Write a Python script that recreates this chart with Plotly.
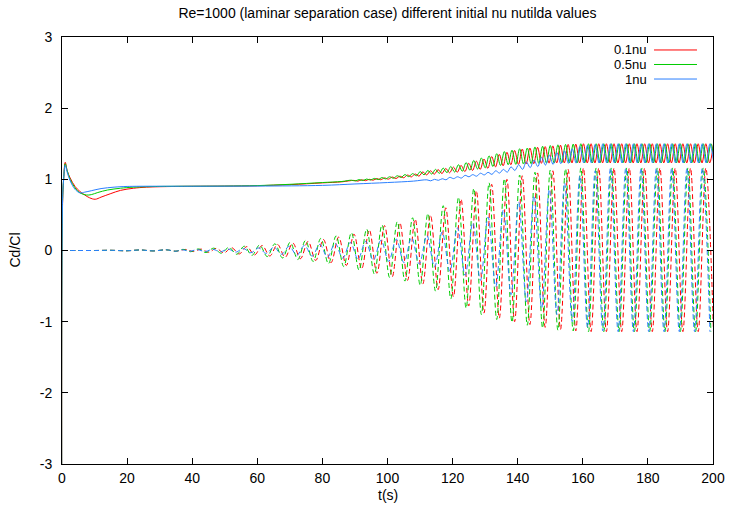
import plotly.graph_objects as go

# ---------------- data ----------------
# Cd (solid) and Cl (dashed) for three initial nu_tilda values; points are
# the curve's turning points / read-off samples (t [s], value)

red_cd = [(0, -6), (0.15, 0.6), (0.5, 1.0), (1.0, 1.24), (1.6, 1.12), (2.5, 1.02), (4, 0.9), (5.5, 0.83),
          (7, 0.78), (8.5, 0.74), (10.2, 0.72), (12, 0.75), (15, 0.8), (18, 0.845), (22, 0.875), (26, 0.89),
          (35, 0.9), (50, 0.905), (60, 0.91), (70, 0.925), (80, 0.95), (86, 0.965),
          (89.7, 0.985), (90.88, 0.975), (92.05, 0.993), (93.23, 0.981), (94.4, 1.0), (95.58, 0.988),
          (96.75, 1.01), (97.93, 0.994), (99.1, 1.02), (100.28, 1.003), (101.45, 1.032), (102.63, 1.012),
          (103.8, 1.044), (104.98, 1.022), (106.15, 1.06), (107.33, 1.034), (108.5, 1.075), (109.68, 1.045),
          (110.85, 1.104), (112.03, 1.062), (113.2, 1.12), (114.38, 1.072), (115.55, 1.136), (116.73, 1.082),
          (117.9, 1.152), (119.08, 1.092), (120.25, 1.172), (121.43, 1.1), (122.6, 1.195), (123.78, 1.11),
          (124.95, 1.225), (126.13, 1.125), (127.3, 1.255), (128.48, 1.14), (129.65, 1.285), (130.83, 1.155),
          (132.0, 1.32), (133.18, 1.175), (134.35, 1.35), (135.53, 1.19), (136.7, 1.38), (137.88, 1.205),
          (139.05, 1.405), (140.23, 1.21), (141.4, 1.425), (142.58, 1.215), (143.75, 1.44), (144.93, 1.22),
          (146.1, 1.45), (147.28, 1.225), (148.45, 1.46), (149.63, 1.228), (150.8, 1.47), (151.98, 1.23),
          (153.15, 1.48), (154.33, 1.23), (155.5, 1.49), (156.68, 1.23), (157.85, 1.495), (159.03, 1.23),
          (160.2, 1.5), (161.38, 1.23), (162.55, 1.5), (163.73, 1.23), (164.9, 1.5), (166.08, 1.23),
          (167.25, 1.5), (168.43, 1.23), (169.6, 1.5), (170.78, 1.23), (171.95, 1.5), (173.13, 1.23),
          (174.3, 1.5), (175.48, 1.23), (176.65, 1.5), (177.83, 1.23), (179.0, 1.5), (180.18, 1.23),
          (181.35, 1.5), (182.53, 1.23), (183.7, 1.5), (184.88, 1.23), (186.05, 1.5), (187.23, 1.23),
          (188.4, 1.5), (189.58, 1.23), (190.75, 1.5), (191.93, 1.23), (193.1, 1.5), (194.28, 1.23),
          (195.45, 1.5), (196.63, 1.23), (197.8, 1.5), (198.98, 1.23), (200.15, 1.5)]

red_cl = [(0, 0), (5, 0), (10, 0), (15, 0.003), (20, -0.004), (24, 0.008), (28, -0.006), (32, 0.01), (35, -0.01),
          (38.0, 0.015), (40.35, -0.015), (42.7, 0.02), (45.05, -0.025), (47.4, 0.03), (49.75, -0.035),
          (52.1, 0.04), (54.45, -0.048), (56.8, 0.055), (59.15, -0.063), (61.5, 0.07), (63.85, -0.077),
          (66.2, 0.085), (68.55, -0.095), (70.9, 0.105), (73.25, -0.115), (75.6, 0.128), (77.95, -0.14),
          (80.3, 0.155), (82.65, -0.17), (85.0, 0.19), (87.35, -0.21), (89.7, 0.23), (92.05, -0.26),
          (94.4, 0.29), (96.75, -0.32), (99.1, 0.35), (101.45, -0.37), (103.8, 0.39), (106.15, -0.42),
          (108.5, 0.44), (110.85, -0.47), (113.2, 0.5), (115.55, -0.55), (117.9, 0.6), (120.25, -0.65),
          (122.6, 0.72), (124.95, -0.78), (127.3, 0.84), (129.65, -0.88), (132.0, 0.93), (134.35, -0.95),
          (136.7, 1.0), (139.05, -1.0), (141.4, 1.05), (143.75, -1.04), (146.1, 1.09), (148.45, -1.08),
          (150.8, 1.12), (153.15, -1.11), (155.5, 1.14), (157.85, -1.13), (160.2, 1.16), (162.55, -1.14),
          (164.9, 1.16), (167.25, -1.14), (169.6, 1.16), (171.95, -1.14), (174.3, 1.16), (176.65, -1.14),
          (179.0, 1.16), (181.35, -1.14), (183.7, 1.16), (186.05, -1.14), (188.4, 1.16), (190.75, -1.14),
          (193.1, 1.16), (195.45, -1.14), (197.8, 1.16), (200.15, -1.14)]

green_cd = [(0, -6), (0.15, 0.65), (0.5, 1.0), (1.0, 1.22), (1.6, 1.12), (2.5, 1.0), (4, 0.88), (5.5, 0.81),
            (7.5, 0.78), (9, 0.785), (11, 0.815), (14, 0.85), (18, 0.875), (22, 0.89), (30, 0.9), (50, 0.905),
            (60, 0.912), (70, 0.93), (80, 0.955), (86, 0.97),
            (88.9, 0.988), (90.08, 0.978), (91.25, 0.996), (92.43, 0.984), (93.6, 1.004), (94.78, 0.99),
            (95.95, 1.013), (97.13, 0.997), (98.3, 1.024), (99.48, 1.006), (100.65, 1.036), (101.83, 1.015),
            (103.0, 1.05), (104.18, 1.026), (105.35, 1.066), (106.53, 1.038), (107.7, 1.08), (108.88, 1.05),
            (110.05, 1.108), (111.23, 1.064), (112.4, 1.124), (113.58, 1.074), (114.75, 1.14), (115.93, 1.084),
            (117.1, 1.158), (118.28, 1.094), (119.45, 1.18), (120.63, 1.102), (121.8, 1.205), (122.98, 1.114),
            (124.15, 1.235), (125.33, 1.128), (126.5, 1.265), (127.68, 1.145), (128.85, 1.3), (130.03, 1.16),
            (131.2, 1.33), (132.38, 1.18), (133.55, 1.36), (134.73, 1.195), (135.9, 1.39), (137.08, 1.205),
            (138.25, 1.41), (139.43, 1.21), (140.6, 1.43), (141.78, 1.215), (142.95, 1.44), (144.13, 1.22),
            (145.3, 1.455), (146.48, 1.225), (147.65, 1.465), (148.83, 1.228), (150.0, 1.475), (151.18, 1.23),
            (152.35, 1.485), (153.53, 1.23), (154.7, 1.49), (155.88, 1.23), (157.05, 1.495), (158.23, 1.23),
            (159.4, 1.5), (160.58, 1.23), (161.75, 1.5), (162.93, 1.23), (164.1, 1.5), (165.28, 1.23),
            (166.45, 1.5), (167.63, 1.23), (168.8, 1.5), (169.98, 1.23), (171.15, 1.5), (172.33, 1.23),
            (173.5, 1.5), (174.68, 1.23), (175.85, 1.5), (177.03, 1.23), (178.2, 1.5), (179.38, 1.23),
            (180.55, 1.5), (181.73, 1.23), (182.9, 1.5), (184.08, 1.23), (185.25, 1.5), (186.43, 1.23),
            (187.6, 1.5), (188.78, 1.23), (189.95, 1.5), (191.13, 1.23), (192.3, 1.5), (193.48, 1.23),
            (194.65, 1.5), (195.83, 1.23), (197.0, 1.5), (198.18, 1.23), (199.35, 1.5), (200.53, 1.23)]

green_cl = [(0, 0), (5, 0), (10, 0), (15, 0.003), (20, -0.004), (24, 0.008), (28, -0.006), (32, 0.01), (35, -0.01),
            (37.2, 0.016), (39.55, -0.017), (41.9, 0.022), (44.25, -0.028), (46.6, 0.033), (48.95, -0.039),
            (51.3, 0.045), (53.65, -0.053), (56.0, 0.06), (58.35, -0.069), (60.7, 0.077), (63.05, -0.085),
            (65.4, 0.094), (67.75, -0.105), (70.1, 0.115), (72.45, -0.127), (74.8, 0.14), (77.15, -0.154),
            (79.5, 0.17), (81.85, -0.185), (84.2, 0.205), (86.55, -0.225), (88.9, 0.25), (91.25, -0.275),
            (93.6, 0.3), (95.95, -0.33), (98.3, 0.36), (100.65, -0.38), (103.0, 0.405), (105.35, -0.43),
            (107.7, 0.46), (110.05, -0.49), (112.4, 0.52), (114.75, -0.57), (117.1, 0.63), (119.45, -0.68),
            (121.8, 0.75), (124.15, -0.81), (126.5, 0.87), (128.85, -0.9), (131.2, 0.95), (133.55, -0.97),
            (135.9, 1.01), (138.25, -1.01), (140.6, 1.06), (142.95, -1.05), (145.3, 1.1), (147.65, -1.09),
            (150.0, 1.13), (152.35, -1.12), (154.7, 1.15), (157.05, -1.13), (159.4, 1.16), (161.75, -1.14),
            (164.1, 1.16), (166.45, -1.14), (168.8, 1.16), (171.15, -1.14), (173.5, 1.16), (175.85, -1.14),
            (178.2, 1.16), (180.55, -1.14), (182.9, 1.16), (185.25, -1.14), (187.6, 1.16), (189.95, -1.14),
            (192.3, 1.16), (194.65, -1.14), (197.0, 1.16), (199.35, -1.14)]

blue_cd = [(0, -6), (0.15, 0.65), (0.5, 1.0), (1.0, 1.2), (1.6, 1.1), (2.5, 0.98), (4, 0.86), (5.5, 0.81),
           (7, 0.82), (9, 0.84), (12, 0.87), (16, 0.89), (20, 0.9), (40, 0.903), (60, 0.905), (80, 0.915),
           (90, 0.935), (100, 0.955), (108, 0.975),
           (112.1, 0.993), (113.28, 0.979), (114.45, 1.0), (115.63, 0.986), (116.8, 1.008), (117.98, 0.994),
           (119.15, 1.028), (120.33, 1.01), (121.5, 1.036), (122.68, 1.018), (123.85, 1.056), (125.03, 1.036),
           (126.2, 1.066), (127.38, 1.044), (128.55, 1.086), (129.73, 1.062), (130.9, 1.098), (132.08, 1.07),
           (133.25, 1.12), (134.43, 1.088), (135.6, 1.14), (136.78, 1.1), (137.95, 1.175), (139.13, 1.125),
           (140.3, 1.205), (141.48, 1.14), (142.65, 1.245), (143.83, 1.165), (145.0, 1.27), (146.18, 1.18),
           (147.35, 1.31), (148.53, 1.2), (149.7, 1.34), (150.88, 1.21), (152.05, 1.375), (153.23, 1.22),
           (154.4, 1.4), (155.58, 1.225), (156.75, 1.43), (157.93, 1.228), (159.1, 1.46), (160.28, 1.23),
           (161.45, 1.48), (162.63, 1.23), (163.8, 1.49), (164.98, 1.23), (166.15, 1.5), (167.33, 1.23),
           (168.5, 1.5), (169.68, 1.23), (170.85, 1.5), (172.03, 1.23), (173.2, 1.5), (174.38, 1.23),
           (175.55, 1.5), (176.73, 1.23), (177.9, 1.5), (179.08, 1.23), (180.25, 1.5), (181.43, 1.23),
           (182.6, 1.5), (183.78, 1.23), (184.95, 1.5), (186.13, 1.23), (187.3, 1.5), (188.48, 1.23),
           (189.65, 1.5), (190.83, 1.23), (192.0, 1.5), (193.18, 1.23), (194.35, 1.5), (195.53, 1.23),
           (196.7, 1.5), (197.88, 1.23), (199.05, 1.5), (200.23, 1.23)]

blue_cl = [(0, 0), (5, 0), (10, 0), (15, 0.003), (20, -0.004), (24, 0.008), (28, -0.006), (32, 0.01), (35, -0.01),
           (36.9, 0.01), (39.25, -0.01), (41.6, 0.012), (43.95, -0.014), (46.3, 0.016), (48.65, -0.018),
           (51.0, 0.02), (53.35, -0.023), (55.7, 0.027), (58.05, -0.031), (60.4, 0.036), (62.75, -0.041),
           (65.1, 0.047), (67.45, -0.053), (69.8, 0.059), (72.15, -0.065), (74.5, 0.072), (76.85, -0.079),
           (79.2, 0.086), (81.55, -0.093), (83.9, 0.1), (86.25, -0.107), (88.6, 0.115), (90.95, -0.122),
           (93.3, 0.13), (95.65, -0.137), (98.0, 0.145), (100.35, -0.152), (102.7, 0.16), (105.05, -0.17),
           (107.4, 0.18), (109.75, -0.19), (112.1, 0.21), (114.45, -0.23), (116.8, 0.26), (119.15, -0.29),
           (121.5, 0.32), (123.85, -0.35), (126.2, 0.39), (128.55, -0.42), (130.9, 0.47), (133.25, -0.51),
           (135.6, 0.57), (137.95, -0.62), (140.3, 0.68), (142.65, -0.72), (145.0, 0.77), (147.35, -0.81),
           (149.7, 0.86), (152.05, -0.9), (154.4, 0.95), (156.75, -1.0), (159.1, 1.05), (161.45, -1.08),
           (163.8, 1.12), (166.15, -1.13), (168.5, 1.16), (170.85, -1.14), (173.2, 1.16), (175.55, -1.14),
           (177.9, 1.16), (180.25, -1.14), (182.6, 1.16), (184.95, -1.14), (187.3, 1.16), (189.65, -1.14),
           (192.0, 1.16), (194.35, -1.14), (196.7, 1.16), (199.05, -1.14)]

series_names = ["0.1nu", "0.5nu", "1nu"]
series_colors = ["#ff0000", "#00cc00", "#2a7fff"]
x_ticks = [0, 20, 40, 60, 80, 100, 120, 140, 160, 180, 200]
y_ticks = [-3, -2, -1, 0, 1, 2, 3]
y_tick_labels = ["-3", "-2", "-1", "0", "1", "2", "3"]

# ---------------- figure ----------------
FONT = "Liberation Sans, Arial, sans-serif"
fig = go.Figure()

for name, color, cd, cl in zip(series_names, series_colors,
                               [red_cd, green_cd, blue_cd], [red_cl, green_cl, blue_cl]):
    fig.add_trace(go.Scatter(x=[p[0] for p in cd], y=[p[1] for p in cd], mode="lines",
                             line=dict(color=color, width=1, shape="spline", smoothing=1),
                             name=name, showlegend=False, hoverinfo="skip"))
    fig.add_trace(go.Scatter(x=[p[0] for p in cl], y=[p[1] for p in cl], mode="lines",
                             line=dict(color=color, width=1, dash="5px,3px", shape="spline", smoothing=1),
                             name=name, showlegend=False, hoverinfo="skip"))

# gnuplot style key: text then line sample, top-right inside
key_rows_y = [0.9696, 0.9356, 0.9016]
for name, color, ky in zip(series_names, series_colors, key_rows_y):
    fig.add_annotation(x=0.900, y=ky, xref="paper", yref="paper", text=name, showarrow=False,
                       xanchor="right", yanchor="middle", borderpad=0,
                       font=dict(family=FONT, size=13, color="#000"))
    fig.add_shape(type="line", xref="paper", yref="paper", x0=0.9094, x1=0.9754, y0=ky, y1=ky,
                  line=dict(color=color, width=1))

fig.add_annotation(x=0.5, y=-0.072, xref="paper", yref="paper", text="t(s)", showarrow=False,
                   xanchor="center", yanchor="middle", borderpad=0,
                   font=dict(family=FONT, size=14, color="#000"))
fig.add_annotation(x=-0.0737, y=0.5, xref="paper", yref="paper", text="Cd/Cl", showarrow=False,
                   textangle=-90, xanchor="center", yanchor="middle",
                   font=dict(family=FONT, size=14, color="#000"))

axis_common = dict(showgrid=False, zeroline=False, showline=True, linecolor="#000", linewidth=1,
                   mirror="ticks", ticks="inside", ticklen=6, tickcolor="#000", tickwidth=1,
                   tickfont=dict(family=FONT, size=14, color="#000"), automargin=False)

fig.update_layout(
    width=729, height=510,
    margin=dict(l=62, r=16, t=37, b=46, autoexpand=False),
    paper_bgcolor="white", plot_bgcolor="white",
    title=dict(text="Re=1000 (laminar separation case) different initial nu nutilda values",
               x=0.5, xref="paper", xanchor="center", y=1 - 13 / 510, yanchor="middle",
               font=dict(family=FONT, size=14, color="#000")),
    xaxis=dict(range=[0, 200], tickvals=x_ticks, ticklabelstandoff=1, **axis_common),
    yaxis=dict(range=[-3, 3], tickvals=y_ticks, ticktext=y_tick_labels, ticklabelstandoff=6, **axis_common),
)

# remove the page's default 8px body margin so the 729x510 figure fills the window exactly
fig.write_html("out.html", config={"displayModeBar": False},
               post_script="document.body.style.margin='0';document.body.style.overflow='hidden';")
